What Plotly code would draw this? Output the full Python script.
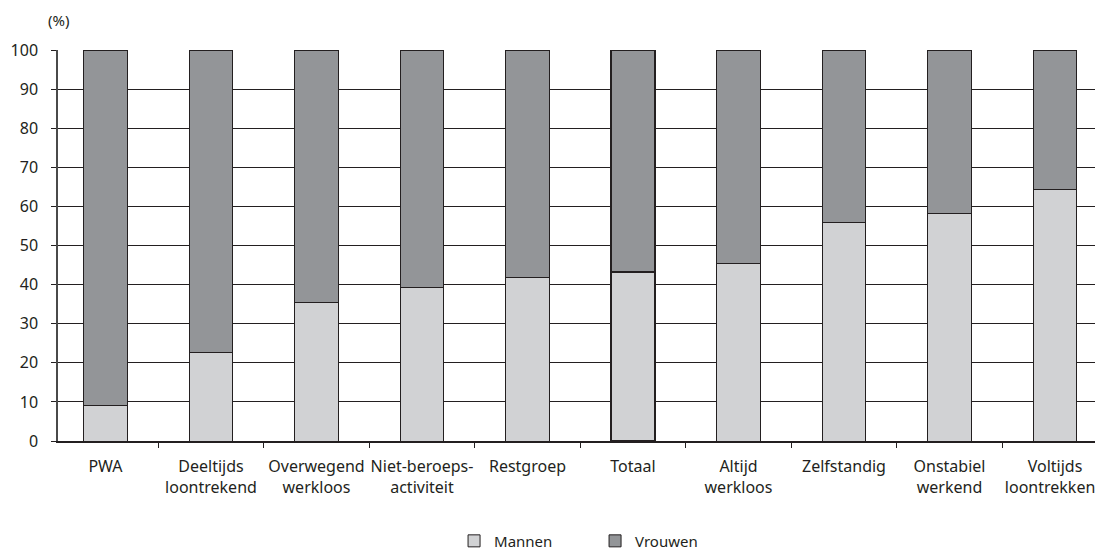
import plotly.graph_objects as go

categories = ["PWA", "Deeltijds loontrekend", "Overwegend werkloos", "Niet-beroeps-activiteit",
              "Restgroep", "Totaal", "Altijd werkloos", "Zelfstandig", "Onstabiel werkend",
              "Voltijds loontrekkend"]
tick_labels = ["PWA", "Deeltijds<br>loontrekend", "Overwegend<br>werkloos", "Niet-beroeps-<br>activiteit",
               "Restgroep", "Totaal", "Altijd<br>werkloos", "Zelfstandig", "Onstabiel<br>werkend",
               "Voltijds<br>loontrekkend"]
mannen = [9.0, 22.6, 35.5, 39.3, 41.9, 43.2, 45.3, 55.8, 58.3, 64.4]
vrouwen = [round(100 - m, 1) for m in mannen]

line_widths = [2.2 if c == "Totaal" else 1 for c in categories]
font = dict(family="Noto Sans, sans-serif", size=15, color="#231f20")

fig = go.Figure()
fig.add_trace(go.Bar(x=categories, y=mannen, name="Mannen", width=0.41,
                     marker=dict(color="#d1d2d4", line=dict(color="#231f20", width=line_widths))))
fig.add_trace(go.Bar(x=categories, y=vrouwen, name="Vrouwen", width=0.41,
                     marker=dict(color="#939598", line=dict(color="#231f20", width=line_widths))))

fig.update_layout(
    width=1103, height=552, barmode="stack",
    margin=dict(l=50, r=8, t=42, b=119, autoexpand=False),
    plot_bgcolor="white", paper_bgcolor="white",
    font=font,
    showlegend=True,
    legend=dict(orientation="h", x=0.379, xanchor="left", y=-0.256, yanchor="middle",
                traceorder="normal", font=dict(size=15), entrywidth=96, entrywidthmode="pixels"),
    annotations=[dict(text="(%)", xref="paper", yref="paper", x=0.0, y=1.077,
                      xanchor="center", yanchor="middle", showarrow=False, font=dict(size=15))],
)
fig.update_xaxes(type="category", range=[-0.45, 9.455], tickvals=categories, ticktext=tick_labels,
                 tickson="boundaries", ticks="outside", ticklen=5, tickcolor="#231f20", tickangle=0,
                 ticklabelstandoff=10, tickfont=dict(size=16),
                 showline=True, linecolor="#231f20", linewidth=2, showgrid=False, automargin=False)
fig.update_yaxes(range=[0, 100], tick0=0, dtick=10, ticks="outside", ticklen=5, tickcolor="#231f20",
                 showgrid=True, gridcolor="#231f20", gridwidth=1, ticklabelstandoff=10,
                 tickfont=dict(size=16),
                 showline=True, linecolor="#4a4a4a", linewidth=1.5, zeroline=False, automargin=False)

fig.write_html("out.html")
